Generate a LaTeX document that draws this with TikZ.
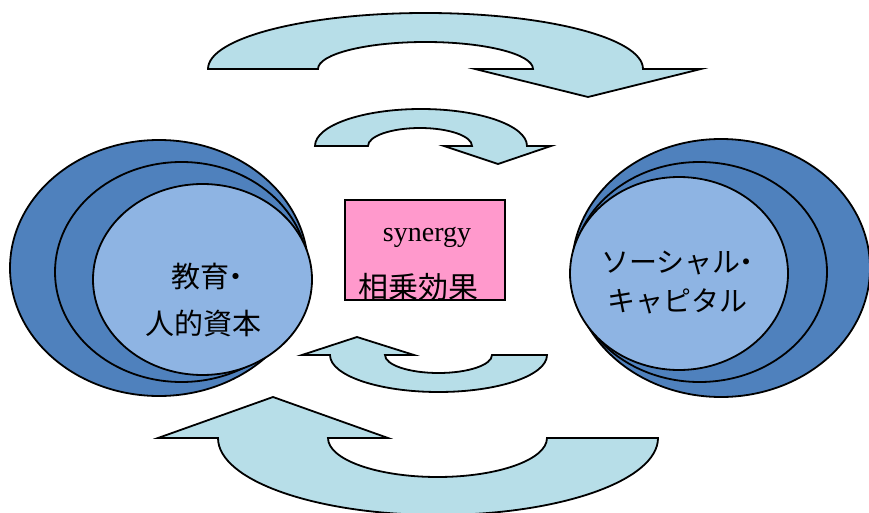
\documentclass[tikz,border=0pt]{standalone}
\usepackage{fontspec}
\setmainfont{Liberation Serif}
\newfontfamily\jp{Noto Sans CJK JP}
\definecolor{arrowfill}{HTML}{B7DEE8}
\definecolor{darkblue}{HTML}{4F81BD}
\definecolor{lightblue}{HTML}{8EB4E3}
\definecolor{pinkfill}{HTML}{FF99CC}
\newcommand{\jdot}{\kern-0.3em・\kern-0.2em}
\tikzset{
  arrowshape/.style={draw=black,fill=arrowfill,line width=1.8pt,line join=miter},
  outerell/.style={draw=black,fill=darkblue,line width=1.8pt},
  innerell/.style={draw=black,fill=lightblue,line width=1.8pt},
  jplabel/.style={font=\jp\fontsize{29}{34}\selectfont,inner sep=0pt,anchor=center},
  pinkbox/.style={draw=black,fill=pinkfill,line width=1.4pt,inner sep=0pt,minimum width=160pt,minimum height=100pt}
}
\begin{document}
\begin{tikzpicture}[x=1pt,y=1pt]
\useasboundingbox (0,0) rectangle (869,-513);
% left ellipses
\draw[outerell] (159,-268) ellipse [x radius=149, y radius=128];
\draw[outerell] (181.5,-272) ellipse [x radius=126.5, y radius=110];
\draw[innerell] (202.5,-279.5) ellipse [x radius=109.5, y radius=95.5];
\node[jplabel] (l1) at (208,-277) {教育\jdot};
\node[jplabel] (l2) at (203,-323) {人的資本};
% right ellipses
\draw[outerell] (721,-268) ellipse [x radius=149, y radius=129];
\draw[outerell] (699.5,-272) ellipse [x radius=127.5, y radius=110];
\draw[innerell] (679,-273.5) ellipse [x radius=109, y radius=96.5];
\node[jplabel,font=\jp\fontsize{28}{32}\selectfont] (r1) at (678,-263) {ソーシャル\jdot};
\node[jplabel,font=\jp\fontsize{28}{32}\selectfont] (r2) at (677,-301) {キャピタル};
% center box
\node[pinkbox] (box) at (425,-250) {};
\node[font=\fontsize{28}{32}\selectfont,inner sep=0pt] (syn) at (427,-237) {synergy};
\node[jplabel,font=\jp\fontsize{30}{34}\selectfont] (sj) at (418,-287) {相乗効果};
% top big arrow
\path[arrowshape] (208,-69) arc [start angle=180,end angle=0,x radius=217.5,y radius=56]
  -- (701,-69) -- (588,-97) -- (475,-69) -- (533,-69)
  arc [start angle=0,end angle=180,x radius=107.5,y radius=27] -- cycle;
% top small arrow
\path[arrowshape] (315,-146) arc [start angle=180,end angle=0,x radius=106,y radius=37]
  -- (551,-146) -- (498,-164) -- (444,-146) -- (472,-146)
  arc [start angle=0,end angle=180,x radius=52,y radius=18] -- cycle;
% bottom small arrow
\path[arrowshape] (547,-355) arc [start angle=0,end angle=-180,x radius=108.5,y radius=37]
  -- (302,-355) -- (357,-337) -- (414,-355) -- (385,-355)
  arc [start angle=180,end angle=360,x radius=53.5,y radius=18] -- cycle;
% bottom big arrow
\path[arrowshape] (658,-438) arc [start angle=0,end angle=-180,x radius=220,y radius=77]
  -- (158,-438) -- (273,-397) -- (388,-438) -- (328,-438)
  arc [start angle=180,end angle=360,x radius=109.5,y radius=39] -- cycle;
\end{tikzpicture}
\end{document}
